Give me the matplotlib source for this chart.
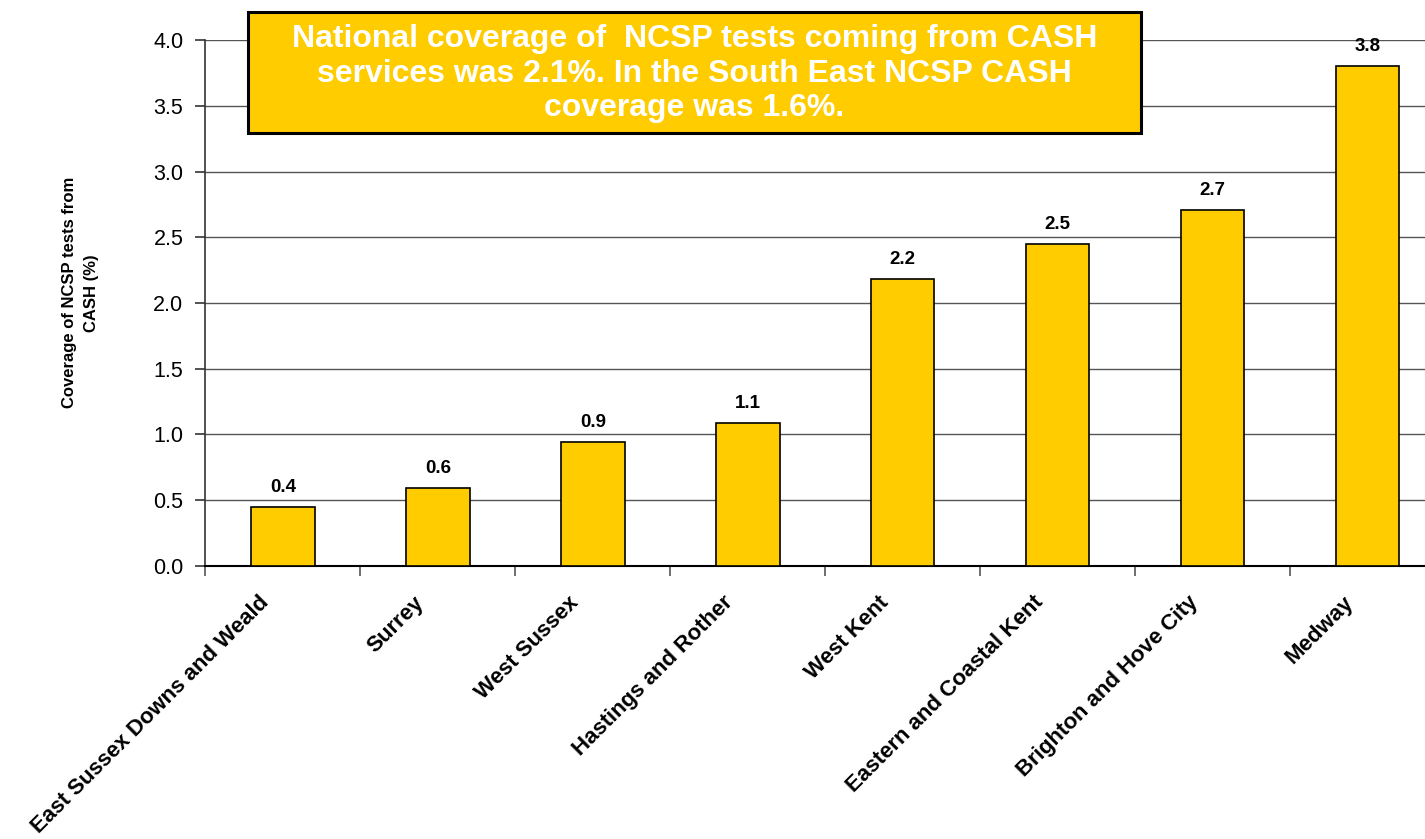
import matplotlib
matplotlib.use("Agg")
import matplotlib.pyplot as plt
import matplotlib.transforms as mtransforms
from matplotlib.patches import Rectangle
import numpy as np

plt.rcParams['font.family'] = ['Liberation Sans', 'DejaVu Sans']

# data
areas = ["East Sussex Downs and Weald", "Surrey", "West Sussex", "Hastings and Rother",
         "West Kent", "Eastern and Coastal Kent", "Brighton and Hove City", "Medway"]
coverage = [0.45, 0.59, 0.94, 1.09, 2.18, 2.45, 2.71, 3.80]
value_labels = ["0.4", "0.6", "0.9", "1.1", "2.2", "2.5", "2.7", "3.8"]
y_ticks = [0.0, 0.5, 1.0, 1.5, 2.0, 2.5, 3.0, 3.5, 4.0]
note = ("National coverage of  NCSP tests coming from CASH\n"
        "services was 2.1%. In the South East NCSP CASH\n"
        "coverage was 1.6%.")

fig = plt.figure(figsize=(14.25, 8.39), dpi=100)
ax = fig.add_axes([0.1442, 0.3254, 1.0140 - 0.1442, 0.9523 - 0.3254])

x = np.arange(len(areas))
bars = ax.bar(x, coverage, width=0.41, color="#FFCC00", edgecolor="black",
              linewidth=1.2, zorder=3)

# value labels above bars
for b, lab in zip(bars, value_labels):
    ax.annotate(lab, (b.get_x() + b.get_width() / 2, b.get_height()),
                xytext=(0, 8), textcoords="offset points",
                ha="center", va="bottom", fontsize=13.5, fontweight="bold")

ax.set_xlim(-0.5, len(areas) - 0.5)
ax.set_ylim(0, 4.0)
ax.set_yticks(y_ticks)
ax.set_yticklabels([f"{v:.1f}" for v in y_ticks], fontsize=15.5)
ax.yaxis.grid(True, color="#555555", linewidth=1.0, zorder=0)
ax.set_axisbelow(True)

ax.set_xticks(x)
ax.set_xticklabels(areas, rotation=45, ha="right", fontsize=16, fontweight="bold")
ax.set_xticks(np.arange(len(areas)) - 0.5, minor=True)
ax.tick_params(axis="x", which="major", length=0, pad=0)
ax.tick_params(axis="x", which="minor", length=7, color="#555555", width=1.2)
ax.tick_params(axis="y", length=7, width=1.2, color="#333333", pad=9)

# move the rotated labels so their ends sit just left of the bar centres
shift = mtransforms.ScaledTranslation(-0.10, -0.26, fig.dpi_scale_trans)
for t in ax.get_xticklabels():
    t.set_transform(t.get_transform() + shift)

for s in ["top", "right"]:
    ax.spines[s].set_visible(False)
ax.spines["left"].set_color("#333333")
ax.spines["left"].set_linewidth(1.2)
ax.spines["bottom"].set_color("black")
ax.spines["bottom"].set_linewidth(1.5)

fig.text(0.0565, 0.651, "Coverage of NCSP tests from\nCASH (%)", rotation=90,
         ha="center", va="center", fontsize=12, fontweight="bold", linespacing=1.65)

# note box
fig.patches.append(Rectangle((0.174, 0.8415), 0.6267, 0.1442, transform=fig.transFigure,
                             facecolor="#FFCC00", edgecolor="black", linewidth=2.2,
                             zorder=4))
fig.text(0.4874, 0.912, note, ha="center", va="center", color="white",
         fontsize=23, fontweight="bold", linespacing=1.2, zorder=5)

fig.savefig("out.png", dpi=100)
